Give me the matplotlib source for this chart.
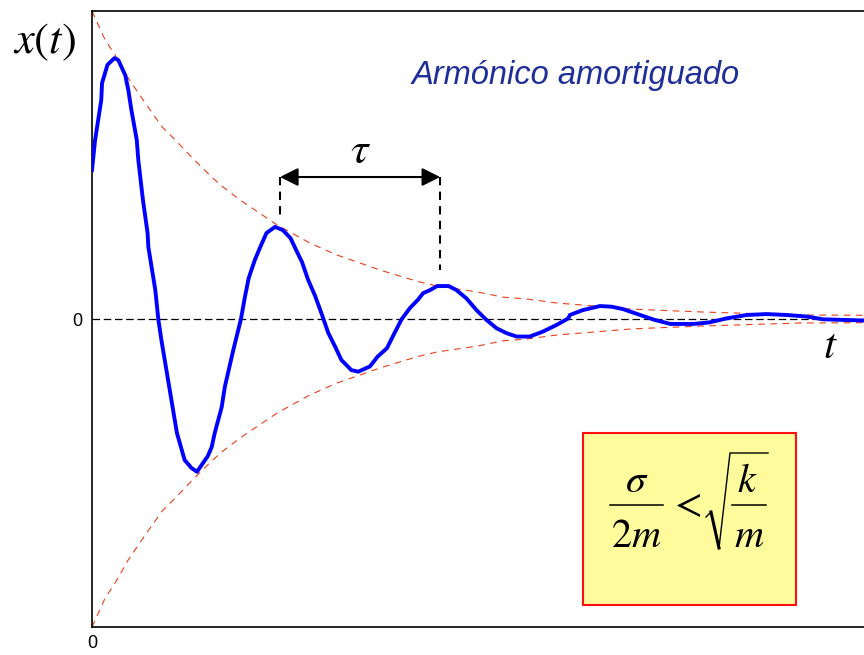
import numpy as np
import matplotlib
matplotlib.use("Agg")
import matplotlib.pyplot as plt
from matplotlib.patches import Rectangle
from matplotlib.lines import Line2D

plt.rcParams['mathtext.fontset'] = 'stix'
plt.rcParams['font.family'] = 'Liberation Sans'

# damped oscillation x(t), sampled by hand
t_curve = [0.00, 0.04, 0.12, 0.13, 0.20, 0.29, 0.34, 0.43, 0.47, 0.51,
           0.58, 0.60, 0.66, 0.72, 0.73, 0.82, 0.86, 0.90, 0.97, 1.05,
           1.10, 1.20, 1.29, 1.36, 1.50, 1.55, 1.59, 1.68, 1.72, 1.83,
           1.93, 1.98, 2.03, 2.11, 2.18, 2.26, 2.37, 2.47, 2.57, 2.65,
           2.72, 2.80, 2.89, 2.98, 3.06, 3.15, 3.23, 3.36, 3.45, 3.60,
           3.70, 3.82, 3.92, 4.01, 4.12, 4.22, 4.29, 4.38, 4.47, 4.62,
           4.72, 4.85, 4.98, 5.11, 5.24, 5.37, 5.50, 5.67, 5.84, 6.02,
           6.17, 6.19, 6.36, 6.58, 6.73, 6.88, 7.10, 7.29, 7.49, 7.79,
           8.00, 8.22, 8.48, 8.74, 9.00, 9.26, 9.47, 10.00]
x_curve = [0.484, 0.581, 0.711, 0.766, 0.825, 0.847, 0.841, 0.792, 0.744, 0.679,
           0.581, 0.516, 0.386, 0.279, 0.234, 0.094, -0.003, -0.070, -0.175, -0.295,
           -0.370, -0.458, -0.484, -0.496, -0.445, -0.416, -0.370, -0.286, -0.221, -0.101,
           0.000, 0.071, 0.133, 0.192, 0.234, 0.279, 0.299, 0.289, 0.263, 0.221,
           0.185, 0.127, 0.075, 0.013, -0.045, -0.090, -0.133, -0.166, -0.171, -0.154,
           -0.122, -0.095, -0.045, -0.001, 0.036, 0.062, 0.084, 0.094, 0.107, 0.107,
           0.094, 0.067, 0.029, -0.003, -0.030, -0.046, -0.057, -0.057, -0.041, -0.019,
           0.002, 0.013, 0.029, 0.042, 0.040, 0.032, 0.013, -0.003, -0.016, -0.016,
           -0.011, 0.002, 0.013, 0.016, 0.013, 0.008, -0.001, -0.005]

# amplitude envelope (drawn as +/-)
t_env = [0.00, 0.17, 0.30, 0.47, 0.69, 0.91, 1.08, 1.30, 1.55, 1.68,
         1.92, 2.40, 2.82, 3.17, 3.47, 3.73, 4.03, 4.25, 4.47, 4.99,
         5.32, 5.63, 6.02, 7.00, 7.88, 9.17, 10.08]
a_env = [1.000, 0.906, 0.857, 0.782, 0.701, 0.623, 0.581, 0.523, 0.461, 0.432,
         0.386, 0.305, 0.247, 0.208, 0.182, 0.159, 0.136, 0.120, 0.107, 0.088,
         0.071, 0.065, 0.052, 0.032, 0.023, 0.013, 0.012]

# period marker between two successive maxima
tau_t = [2.435, 4.51]
tau_bottom = [0.331, 0.159]
tau_y = 0.461

W, H = 864, 655
fig = plt.figure(figsize=(W/100, H/100), dpi=100)
ax = fig.add_axes([92/W, 28/H, 778/W, 616/H])

def fx(px):
    return px / W

def fy(py):
    return 1 - py / H

ax.axhline(0, color='black', lw=0.9, linestyle=(0, (6, 3)), zorder=1)
env = np.array(a_env)
ax.plot(t_env, env, color='#e8401c', lw=0.8, linestyle=(0, (6, 5)), zorder=2)
ax.plot(t_env, -env, color='#e8401c', lw=0.8, linestyle=(0, (6, 5)), zorder=2)
ax.plot(t_curve, x_curve, color='#0000ff', lw=2.8, zorder=3)

for tt, yb in zip(tau_t, tau_bottom):
    ax.plot([tt, tt], [tau_y, yb], color='black', lw=1.5, linestyle=(0, (4, 3)))
ax.annotate('', xy=(tau_t[1], tau_y), xytext=(tau_t[0], tau_y),
            arrowprops=dict(arrowstyle='<|-|>,head_length=1.0,head_width=0.5',
                            mutation_scale=11, lw=1.5, color='black',
                            shrinkA=0, shrinkB=0))
ax.text(sum(tau_t)/2, 0.545, r'$\tau$', fontsize=32, ha='center', va='center')

ax.text(6.27, 0.79, 'Armónico amortiguado', fontsize=23.5, style='italic',
        color='#1f2f99', ha='center', va='center')

# condition box for the underdamped case
ax.add_patch(Rectangle((6.36, -0.929), 2.76, 0.559, facecolor='#fdfb9c',
                       edgecolor='#ff1010', lw=1.5, zorder=4))

# sigma/2m < sqrt(k/m), laid out piece by piece
fs = 29
for s, px, py in [(r'$\sigma$', 637, 492), (r'$2m$', 636, 547),
                  (r'$<$', 685, 516), (r'$k$', 747, 492), (r'$m$', 749, 547)]:
    fig.text(fx(px), fy(py), s, fontsize=fs, ha='center', va='baseline', zorder=6)
for x0, x1 in [(610, 663), (732, 766)]:
    fig.add_artist(Line2D([fx(x0), fx(x1)], [fy(505), fy(505)], color='black',
                          lw=1.1, zorder=6))
fig.add_artist(Line2D([fx(706), fx(711)], [fy(517), fy(512)], color='black', lw=1.0, zorder=6))
fig.add_artist(Line2D([fx(711), fx(719)], [fy(512), fy(548)], color='black', lw=2.2, zorder=6))
fig.add_artist(Line2D([fx(719), fx(730), fx(768)], [fy(548), fy(453), fy(453)],
                      color='black', lw=1.0, zorder=6))

fig.text(fx(44), fy(42), r'$x(t)$', fontsize=32, ha='center', va='center')
ax.text(9.56, -0.09, r'$t$', fontsize=31, ha='center', va='center')

ax.set_xlim(0, 10.078)
ax.set_ylim(-1, 1)
ax.set_xticks([0])
ax.set_yticks([0])
ax.tick_params(length=0, labelsize=13)
ax.tick_params(axis='x', pad=6)
ax.tick_params(axis='y', pad=7)
ax.spines['right'].set_visible(False)
for s in ['left', 'top', 'bottom']:
    ax.spines[s].set_linewidth(1.2)

fig.savefig('out.png', dpi=100)
